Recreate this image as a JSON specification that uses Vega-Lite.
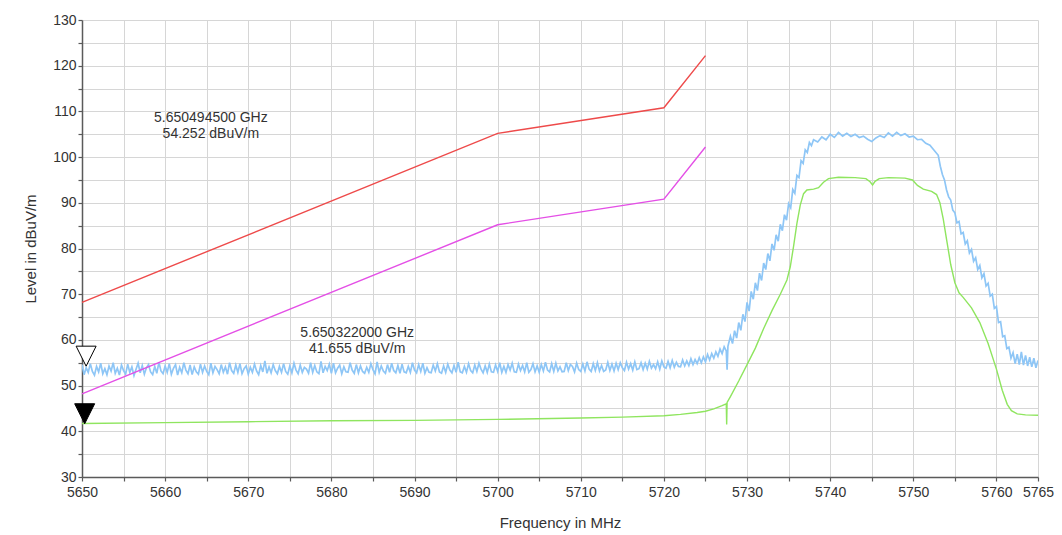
{
  "$schema": "https://vega.github.io/schema/vega-lite/v6.json",
  "width": 956,
  "height": 457,
  "autosize": "none",
  "padding": {"left": 82, "top": 20, "right": 24, "bottom": 58},
  "background": "white",
  "config": {
    "view": {"stroke": null},
    "font": "Liberation Sans",
    "axis": {
      "labelFont": "Liberation Sans",
      "labelFontSize": 14,
      "labelColor": "#333333",
      "labelOverlap": false,
      "labelFlush": false,
      "titleFont": "Liberation Sans",
      "titleFontSize": 15,
      "titleFontWeight": "normal",
      "titleColor": "#333333",
      "domainColor": "#5a5a5a",
      "domainWidth": 1.5,
      "tickColor": "#5a5a5a",
      "tickWidth": 1.2,
      "tickSize": 4,
      "gridColor": "#d6d6d6",
      "gridWidth": 1
    }
  },
  "datasets": {
    "limits": [
      {"f": 5650, "v": 68.2, "kind": "peak limit"},
      {"f": 5700, "v": 105.2, "kind": "peak limit"},
      {"f": 5720, "v": 110.8, "kind": "peak limit"},
      {"f": 5725, "v": 122.2, "kind": "peak limit"},
      {"f": 5650, "v": 48.2, "kind": "average limit"},
      {"f": 5700, "v": 85.2, "kind": "average limit"},
      {"f": 5720, "v": 90.8, "kind": "average limit"},
      {"f": 5725, "v": 102.2, "kind": "average limit"}
    ],
    "peak": [
      {"f": 5650, "v": 54.6}, {"f": 5650.25, "v": 52.4}, {"f": 5650.5, "v": 53.9}, {"f": 5650.75, "v": 52.9},
      {"f": 5651, "v": 54.8}, {"f": 5651.25, "v": 53.1}, {"f": 5651.5, "v": 52.3}, {"f": 5651.75, "v": 54.2},
      {"f": 5652, "v": 53.0}, {"f": 5652.25, "v": 54.9}, {"f": 5652.5, "v": 52.6}, {"f": 5652.75, "v": 53.7},
      {"f": 5653, "v": 52.4}, {"f": 5653.25, "v": 54.3}, {"f": 5653.5, "v": 53.2}, {"f": 5653.75, "v": 55.0},
      {"f": 5654, "v": 52.7}, {"f": 5654.25, "v": 53.8}, {"f": 5654.5, "v": 52.3}, {"f": 5654.75, "v": 54.5},
      {"f": 5655, "v": 53.3}, {"f": 5655.25, "v": 52.5}, {"f": 5655.5, "v": 54.7}, {"f": 5655.75, "v": 52.9},
      {"f": 5656, "v": 54.1}, {"f": 5656.25, "v": 52.2}, {"f": 5656.5, "v": 53.6}, {"f": 5656.75, "v": 54.9},
      {"f": 5657, "v": 52.8}, {"f": 5657.25, "v": 54.4}, {"f": 5657.5, "v": 52.5}, {"f": 5657.75, "v": 53.9},
      {"f": 5658, "v": 54.6}, {"f": 5658.25, "v": 53.0}, {"f": 5658.5, "v": 52.4}, {"f": 5658.75, "v": 54.2},
      {"f": 5659, "v": 52.7}, {"f": 5659.25, "v": 55.1}, {"f": 5659.5, "v": 53.2}, {"f": 5659.75, "v": 52.6},
      {"f": 5660, "v": 54.3}, {"f": 5660.25, "v": 52.9}, {"f": 5660.5, "v": 54.8}, {"f": 5660.75, "v": 52.5},
      {"f": 5661, "v": 53.8}, {"f": 5661.25, "v": 54.6}, {"f": 5661.5, "v": 52.3}, {"f": 5661.75, "v": 54.0},
      {"f": 5662, "v": 52.8}, {"f": 5662.25, "v": 55.0}, {"f": 5662.5, "v": 53.4}, {"f": 5662.75, "v": 52.6},
      {"f": 5663, "v": 54.5}, {"f": 5663.25, "v": 52.4}, {"f": 5663.5, "v": 54.1}, {"f": 5663.75, "v": 53.0},
      {"f": 5664, "v": 52.5}, {"f": 5664.25, "v": 54.7}, {"f": 5664.5, "v": 52.9}, {"f": 5664.75, "v": 54.3},
      {"f": 5665, "v": 53.1}, {"f": 5665.25, "v": 52.4}, {"f": 5665.5, "v": 54.9}, {"f": 5665.75, "v": 52.8},
      {"f": 5666, "v": 54.2}, {"f": 5666.25, "v": 53.5}, {"f": 5666.5, "v": 52.6}, {"f": 5666.75, "v": 54.6},
      {"f": 5667, "v": 52.9}, {"f": 5667.25, "v": 54.1}, {"f": 5667.5, "v": 52.5}, {"f": 5667.75, "v": 55.0},
      {"f": 5668, "v": 53.3}, {"f": 5668.25, "v": 52.7}, {"f": 5668.5, "v": 54.5}, {"f": 5668.75, "v": 52.9},
      {"f": 5669, "v": 54.8}, {"f": 5669.25, "v": 52.6}, {"f": 5669.5, "v": 53.7}, {"f": 5669.75, "v": 54.3},
      {"f": 5670, "v": 52.5}, {"f": 5670.25, "v": 54.0}, {"f": 5670.5, "v": 52.9}, {"f": 5670.75, "v": 54.7},
      {"f": 5671, "v": 53.2}, {"f": 5671.25, "v": 52.4}, {"f": 5671.5, "v": 54.4}, {"f": 5671.75, "v": 53.0},
      {"f": 5672, "v": 55.4}, {"f": 5672.25, "v": 52.7}, {"f": 5672.5, "v": 54.1}, {"f": 5672.75, "v": 52.8},
      {"f": 5673, "v": 54.6}, {"f": 5673.25, "v": 53.3}, {"f": 5673.5, "v": 52.6}, {"f": 5673.75, "v": 54.2},
      {"f": 5674, "v": 52.9}, {"f": 5674.25, "v": 54.8}, {"f": 5674.5, "v": 53.1}, {"f": 5674.75, "v": 52.5},
      {"f": 5675, "v": 54.3}, {"f": 5675.25, "v": 52.8}, {"f": 5675.5, "v": 54.9}, {"f": 5675.75, "v": 53.4},
      {"f": 5676, "v": 52.6}, {"f": 5676.25, "v": 54.5}, {"f": 5676.5, "v": 52.9}, {"f": 5676.75, "v": 54.0},
      {"f": 5677, "v": 53.6}, {"f": 5677.25, "v": 52.7}, {"f": 5677.5, "v": 55.0}, {"f": 5677.75, "v": 52.9},
      {"f": 5678, "v": 54.4}, {"f": 5678.25, "v": 53.0}, {"f": 5678.5, "v": 52.6}, {"f": 5678.75, "v": 55.3},
      {"f": 5679, "v": 52.8}, {"f": 5679.25, "v": 54.2}, {"f": 5679.5, "v": 53.3}, {"f": 5679.75, "v": 54.7},
      {"f": 5680, "v": 52.7}, {"f": 5680.25, "v": 54.9}, {"f": 5680.5, "v": 52.8}, {"f": 5680.75, "v": 53.8},
      {"f": 5681, "v": 54.5}, {"f": 5681.25, "v": 52.6}, {"f": 5681.5, "v": 54.1}, {"f": 5681.75, "v": 53.0},
      {"f": 5682, "v": 52.9}, {"f": 5682.25, "v": 55.0}, {"f": 5682.5, "v": 53.4}, {"f": 5682.75, "v": 52.7},
      {"f": 5683, "v": 54.6}, {"f": 5683.25, "v": 52.8}, {"f": 5683.5, "v": 54.3}, {"f": 5683.75, "v": 53.1},
      {"f": 5684, "v": 52.7}, {"f": 5684.25, "v": 54.0}, {"f": 5684.5, "v": 52.9}, {"f": 5684.75, "v": 54.8},
      {"f": 5685, "v": 53.5}, {"f": 5685.25, "v": 52.6}, {"f": 5685.5, "v": 55.2}, {"f": 5685.75, "v": 52.9},
      {"f": 5686, "v": 54.3}, {"f": 5686.25, "v": 53.2}, {"f": 5686.5, "v": 52.7}, {"f": 5686.75, "v": 54.6},
      {"f": 5687, "v": 52.9}, {"f": 5687.25, "v": 54.9}, {"f": 5687.5, "v": 53.3}, {"f": 5687.75, "v": 52.8},
      {"f": 5688, "v": 54.4}, {"f": 5688.25, "v": 52.7}, {"f": 5688.5, "v": 54.7}, {"f": 5688.75, "v": 53.0},
      {"f": 5689, "v": 52.8}, {"f": 5689.25, "v": 54.2}, {"f": 5689.5, "v": 52.9}, {"f": 5689.75, "v": 55.0},
      {"f": 5690, "v": 53.4}, {"f": 5690.25, "v": 52.8}, {"f": 5690.5, "v": 54.6}, {"f": 5690.75, "v": 53.1},
      {"f": 5691, "v": 54.9}, {"f": 5691.25, "v": 52.7}, {"f": 5691.5, "v": 53.9}, {"f": 5691.75, "v": 52.9},
      {"f": 5692, "v": 52.8}, {"f": 5692.25, "v": 54.5}, {"f": 5692.5, "v": 53.2}, {"f": 5692.75, "v": 54.8},
      {"f": 5693, "v": 53.0}, {"f": 5693.25, "v": 52.7}, {"f": 5693.5, "v": 54.3}, {"f": 5693.75, "v": 52.9},
      {"f": 5694, "v": 54.7}, {"f": 5694.25, "v": 53.4}, {"f": 5694.5, "v": 52.8}, {"f": 5694.75, "v": 54.4},
      {"f": 5695, "v": 52.9}, {"f": 5695.25, "v": 55.1}, {"f": 5695.5, "v": 53.0}, {"f": 5695.75, "v": 52.8},
      {"f": 5696, "v": 54.2}, {"f": 5696.25, "v": 52.9}, {"f": 5696.5, "v": 54.8}, {"f": 5696.75, "v": 53.3},
      {"f": 5697, "v": 52.8}, {"f": 5697.25, "v": 54.5}, {"f": 5697.5, "v": 53.1}, {"f": 5697.75, "v": 54.9},
      {"f": 5698, "v": 53.6}, {"f": 5698.25, "v": 52.8}, {"f": 5698.5, "v": 54.3}, {"f": 5698.75, "v": 52.9},
      {"f": 5699, "v": 54.7}, {"f": 5699.25, "v": 53.0}, {"f": 5699.5, "v": 52.9}, {"f": 5699.75, "v": 54.5},
      {"f": 5700, "v": 53.1}, {"f": 5700.25, "v": 55.0}, {"f": 5700.5, "v": 52.9}, {"f": 5700.75, "v": 54.2},
      {"f": 5701, "v": 52.9}, {"f": 5701.25, "v": 54.6}, {"f": 5701.5, "v": 53.4}, {"f": 5701.75, "v": 54.9},
      {"f": 5702, "v": 53.0}, {"f": 5702.25, "v": 52.9}, {"f": 5702.5, "v": 54.7}, {"f": 5702.75, "v": 53.3},
      {"f": 5703, "v": 54.4}, {"f": 5703.25, "v": 53.0}, {"f": 5703.5, "v": 55.0}, {"f": 5703.75, "v": 52.9},
      {"f": 5704, "v": 53.5}, {"f": 5704.25, "v": 54.8}, {"f": 5704.5, "v": 53.0}, {"f": 5704.75, "v": 54.3},
      {"f": 5705, "v": 52.9}, {"f": 5705.25, "v": 54.6}, {"f": 5705.5, "v": 53.2}, {"f": 5705.75, "v": 55.1},
      {"f": 5706, "v": 53.4}, {"f": 5706.25, "v": 53.0}, {"f": 5706.5, "v": 54.8}, {"f": 5706.75, "v": 53.1},
      {"f": 5707, "v": 54.9}, {"f": 5707.25, "v": 53.2}, {"f": 5707.5, "v": 54.1}, {"f": 5707.75, "v": 53.0},
      {"f": 5708, "v": 53.1}, {"f": 5708.25, "v": 55.0}, {"f": 5708.5, "v": 53.3}, {"f": 5708.75, "v": 54.6},
      {"f": 5709, "v": 54.2}, {"f": 5709.25, "v": 53.0}, {"f": 5709.5, "v": 54.9}, {"f": 5709.75, "v": 53.5},
      {"f": 5710, "v": 53.1}, {"f": 5710.25, "v": 54.7}, {"f": 5710.5, "v": 53.2}, {"f": 5710.75, "v": 55.2},
      {"f": 5711, "v": 53.6}, {"f": 5711.25, "v": 53.1}, {"f": 5711.5, "v": 54.8}, {"f": 5711.75, "v": 53.3},
      {"f": 5712, "v": 55.0}, {"f": 5712.25, "v": 53.2}, {"f": 5712.5, "v": 54.4}, {"f": 5712.75, "v": 53.1},
      {"f": 5713, "v": 53.4}, {"f": 5713.25, "v": 55.1}, {"f": 5713.5, "v": 53.3}, {"f": 5713.75, "v": 54.7},
      {"f": 5714, "v": 53.2}, {"f": 5714.25, "v": 54.9}, {"f": 5714.5, "v": 53.5}, {"f": 5714.75, "v": 55.0},
      {"f": 5715, "v": 53.9}, {"f": 5715.25, "v": 53.3}, {"f": 5715.5, "v": 55.1}, {"f": 5715.75, "v": 53.6},
      {"f": 5716, "v": 54.8}, {"f": 5716.25, "v": 53.4}, {"f": 5716.5, "v": 55.2}, {"f": 5716.75, "v": 53.5},
      {"f": 5717, "v": 53.7}, {"f": 5717.25, "v": 55.0}, {"f": 5717.5, "v": 53.5}, {"f": 5717.75, "v": 54.9},
      {"f": 5718, "v": 53.6}, {"f": 5718.25, "v": 55.3}, {"f": 5718.5, "v": 53.8}, {"f": 5718.75, "v": 54.6},
      {"f": 5719, "v": 53.7}, {"f": 5719.25, "v": 55.2}, {"f": 5719.5, "v": 53.6}, {"f": 5719.75, "v": 55.4},
      {"f": 5720, "v": 54.1}, {"f": 5720.25, "v": 53.8}, {"f": 5720.5, "v": 55.3}, {"f": 5720.75, "v": 53.9},
      {"f": 5721, "v": 55.5}, {"f": 5721.25, "v": 54.0}, {"f": 5721.5, "v": 55.1}, {"f": 5721.75, "v": 54.2},
      {"f": 5722, "v": 54.1}, {"f": 5722.25, "v": 55.6}, {"f": 5722.5, "v": 54.3}, {"f": 5722.75, "v": 55.4},
      {"f": 5723, "v": 54.4}, {"f": 5723.25, "v": 55.9}, {"f": 5723.5, "v": 54.6}, {"f": 5723.75, "v": 55.7},
      {"f": 5724, "v": 54.8}, {"f": 5724.25, "v": 56.1}, {"f": 5724.5, "v": 55.0}, {"f": 5724.75, "v": 56.3},
      {"f": 5725, "v": 55.2}, {"f": 5725.25, "v": 56.8}, {"f": 5725.5, "v": 55.6}, {"f": 5725.75, "v": 57.0},
      {"f": 5726, "v": 56.0}, {"f": 5726.25, "v": 57.4}, {"f": 5726.5, "v": 56.4}, {"f": 5726.75, "v": 58.0},
      {"f": 5727, "v": 57.0}, {"f": 5727.25, "v": 58.5}, {"f": 5727.5, "v": 57.6}, {"f": 5727.6, "v": 53.5},
      {"f": 5727.7, "v": 58.6}, {"f": 5728, "v": 60.8}, {"f": 5728.25, "v": 59.2}, {"f": 5728.5, "v": 62.0},
      {"f": 5728.75, "v": 60.4}, {"f": 5729, "v": 63.8}, {"f": 5729.25, "v": 62.1}, {"f": 5729.5, "v": 65.6},
      {"f": 5729.75, "v": 64.0}, {"f": 5730, "v": 68.2}, {"f": 5730.25, "v": 66.3}, {"f": 5730.5, "v": 70.6},
      {"f": 5730.75, "v": 68.9}, {"f": 5731, "v": 72.5}, {"f": 5731.25, "v": 70.8}, {"f": 5731.5, "v": 74.6},
      {"f": 5731.75, "v": 73.0}, {"f": 5732, "v": 76.8}, {"f": 5732.25, "v": 75.4}, {"f": 5732.5, "v": 78.9},
      {"f": 5732.75, "v": 77.3}, {"f": 5733, "v": 81.0}, {"f": 5733.25, "v": 79.6}, {"f": 5733.5, "v": 83.0},
      {"f": 5733.75, "v": 81.6}, {"f": 5734, "v": 85.3}, {"f": 5734.25, "v": 83.9}, {"f": 5734.5, "v": 87.4},
      {"f": 5734.75, "v": 86.2}, {"f": 5735, "v": 89.8}, {"f": 5735.25, "v": 88.9}, {"f": 5735.5, "v": 92.9},
      {"f": 5735.75, "v": 92.1}, {"f": 5736, "v": 96.0}, {"f": 5736.25, "v": 95.5}, {"f": 5736.5, "v": 99.2},
      {"f": 5736.75, "v": 98.6}, {"f": 5737, "v": 101.6}, {"f": 5737.25, "v": 101.0}, {"f": 5737.5, "v": 103.2},
      {"f": 5737.75, "v": 102.5}, {"f": 5738, "v": 103.8}, {"f": 5738.5, "v": 103.3}, {"f": 5739, "v": 104.4},
      {"f": 5739.5, "v": 103.8}, {"f": 5740, "v": 105.0}, {"f": 5740.5, "v": 104.3}, {"f": 5741, "v": 105.4},
      {"f": 5741.5, "v": 104.6}, {"f": 5742, "v": 105.2}, {"f": 5742.5, "v": 104.5}, {"f": 5743, "v": 105.0},
      {"f": 5743.5, "v": 104.3}, {"f": 5744, "v": 104.6}, {"f": 5744.5, "v": 103.9}, {"f": 5745, "v": 103.4},
      {"f": 5745.5, "v": 104.2}, {"f": 5746, "v": 104.7}, {"f": 5746.5, "v": 104.3}, {"f": 5747, "v": 105.3},
      {"f": 5747.5, "v": 104.6}, {"f": 5748, "v": 105.4}, {"f": 5748.5, "v": 104.7}, {"f": 5749, "v": 105.1},
      {"f": 5749.5, "v": 104.4}, {"f": 5750, "v": 104.6}, {"f": 5750.5, "v": 103.8}, {"f": 5751, "v": 103.9},
      {"f": 5751.5, "v": 103.0}, {"f": 5752, "v": 102.6}, {"f": 5752.5, "v": 101.5}, {"f": 5753, "v": 100.4},
      {"f": 5753.25, "v": 98.0}, {"f": 5753.5, "v": 96.2}, {"f": 5753.75, "v": 95.0}, {"f": 5754, "v": 92.8},
      {"f": 5754.25, "v": 91.3}, {"f": 5754.5, "v": 90.6}, {"f": 5754.75, "v": 88.4}, {"f": 5755, "v": 87.8},
      {"f": 5755.25, "v": 85.6}, {"f": 5755.5, "v": 85.9}, {"f": 5755.75, "v": 83.2}, {"f": 5756, "v": 83.5},
      {"f": 5756.25, "v": 81.0}, {"f": 5756.5, "v": 81.7}, {"f": 5756.75, "v": 79.0}, {"f": 5757, "v": 79.8},
      {"f": 5757.25, "v": 77.2}, {"f": 5757.5, "v": 78.0}, {"f": 5757.75, "v": 75.4}, {"f": 5758, "v": 76.3},
      {"f": 5758.25, "v": 73.6}, {"f": 5758.5, "v": 74.5}, {"f": 5758.75, "v": 71.8}, {"f": 5759, "v": 72.4},
      {"f": 5759.25, "v": 69.6}, {"f": 5759.5, "v": 70.0}, {"f": 5759.75, "v": 66.9}, {"f": 5760, "v": 67.3},
      {"f": 5760.25, "v": 63.8}, {"f": 5760.5, "v": 64.0}, {"f": 5760.75, "v": 60.7}, {"f": 5761, "v": 60.9},
      {"f": 5761.25, "v": 58.1}, {"f": 5761.5, "v": 58.4}, {"f": 5761.75, "v": 56.0}, {"f": 5762, "v": 57.2},
      {"f": 5762.25, "v": 54.8}, {"f": 5762.5, "v": 56.9}, {"f": 5762.75, "v": 54.6}, {"f": 5763, "v": 57.4},
      {"f": 5763.25, "v": 54.5}, {"f": 5763.5, "v": 56.6}, {"f": 5763.75, "v": 54.3}, {"f": 5764, "v": 56.2},
      {"f": 5764.25, "v": 54.1}, {"f": 5764.5, "v": 56.0}, {"f": 5764.75, "v": 53.9}, {"f": 5765, "v": 55.5}
    ],
    "average": [
      {"f": 5650, "v": 41.7}, {"f": 5660, "v": 41.9}, {"f": 5670, "v": 42.1}, {"f": 5680, "v": 42.3},
      {"f": 5690, "v": 42.4}, {"f": 5700, "v": 42.6}, {"f": 5710, "v": 42.9}, {"f": 5715, "v": 43.1},
      {"f": 5720, "v": 43.4}, {"f": 5722, "v": 43.7}, {"f": 5724, "v": 44.1}, {"f": 5725, "v": 44.4},
      {"f": 5726, "v": 44.9}, {"f": 5727, "v": 45.6}, {"f": 5727.5, "v": 46.0}, {"f": 5727.55, "v": 41.5},
      {"f": 5727.6, "v": 46.3}, {"f": 5728, "v": 47.6}, {"f": 5729, "v": 51.0}, {"f": 5730, "v": 54.6},
      {"f": 5731, "v": 58.2}, {"f": 5732, "v": 62.5}, {"f": 5733, "v": 66.4}, {"f": 5734, "v": 70.0},
      {"f": 5734.8, "v": 73.1}, {"f": 5735.2, "v": 76.0}, {"f": 5735.6, "v": 80.5}, {"f": 5736, "v": 85.5},
      {"f": 5736.4, "v": 89.5}, {"f": 5736.8, "v": 92.0}, {"f": 5737.2, "v": 92.8}, {"f": 5738, "v": 93.0},
      {"f": 5738.6, "v": 93.3}, {"f": 5739.2, "v": 94.5}, {"f": 5739.8, "v": 95.3}, {"f": 5741, "v": 95.6},
      {"f": 5743, "v": 95.5}, {"f": 5744.3, "v": 95.3}, {"f": 5744.8, "v": 94.6}, {"f": 5745.1, "v": 93.9},
      {"f": 5745.4, "v": 94.7}, {"f": 5745.9, "v": 95.3}, {"f": 5747, "v": 95.5}, {"f": 5749, "v": 95.4},
      {"f": 5749.9, "v": 95.0}, {"f": 5750.5, "v": 93.8}, {"f": 5751.2, "v": 93.0}, {"f": 5752.2, "v": 92.5},
      {"f": 5752.8, "v": 91.8}, {"f": 5753.2, "v": 90.0}, {"f": 5753.6, "v": 86.5}, {"f": 5754, "v": 82.0},
      {"f": 5754.5, "v": 76.5}, {"f": 5755, "v": 72.5}, {"f": 5755.5, "v": 70.3}, {"f": 5756, "v": 69.3},
      {"f": 5757, "v": 67.0}, {"f": 5758, "v": 63.8}, {"f": 5759, "v": 59.2}, {"f": 5760, "v": 53.6},
      {"f": 5760.7, "v": 49.0}, {"f": 5761.3, "v": 45.9}, {"f": 5761.8, "v": 44.5}, {"f": 5762.5, "v": 43.8},
      {"f": 5763.5, "v": 43.6}, {"f": 5765, "v": 43.5}
    ],
    "markers": [
      {"f": 5650.4945, "v": 54.252, "marker": "peak", "lines": ["5.650494500 GHz", "54.252 dBuV/m"], "lf": 5665.5, "lv": 108.6},
      {"f": 5650.322, "v": 41.655, "marker": "average", "lines": ["5.650322000 GHz", "41.655 dBuV/m"], "lf": 5683.1, "lv": 61.6}
    ]
  },
  "encoding": {
    "x": {
      "field": "f",
      "type": "quantitative",
      "scale": {"domain": [5650, 5765], "nice": false, "zero": false},
      "axis": {
        "title": "Frequency in MHz",
        "values": [5650, 5655, 5660, 5665, 5670, 5675, 5680, 5685, 5690, 5695, 5700, 5705, 5710, 5715, 5720, 5725, 5730, 5735, 5740, 5745, 5750, 5755, 5760, 5765],
        "format": "d",
        "labelExpr": "datum.value % 10 === 0 || datum.value === 5765 ? datum.label : ''",
        "labelPadding": 4,
        "titlePadding": 16
      }
    },
    "y": {
      "field": "v",
      "type": "quantitative",
      "scale": {"domain": [30, 130], "nice": false, "zero": false},
      "axis": {
        "title": "Level in dBuV/m",
        "values": [30, 35, 40, 45, 50, 55, 60, 65, 70, 75, 80, 85, 90, 95, 100, 105, 110, 115, 120, 125, 130],
        "format": "d",
        "labelExpr": "datum.value % 10 === 0 ? datum.label : ''",
        "labelPadding": 2,
        "titlePadding": 14
      }
    }
  },
  "layer": [
    {
      "data": {"name": "peak"},
      "mark": {"type": "line", "color": "#8ec6f6", "strokeWidth": 1.7, "clip": true}
    },
    {
      "data": {"name": "average"},
      "mark": {"type": "line", "color": "#8fe55f", "strokeWidth": 1.4, "clip": true}
    },
    {
      "data": {"name": "limits"},
      "mark": {"type": "line", "strokeWidth": 1.4},
      "encoding": {
        "color": {
          "field": "kind",
          "type": "nominal",
          "scale": {"domain": ["peak limit", "average limit"], "range": ["#ee4a4a", "#e44fe6"]},
          "legend": null
        }
      }
    },
    {
      "data": {"name": "markers"},
      "mark": {
        "type": "point",
        "shape": "M-1,-2L1,-2L0,0Z",
        "size": 400,
        "filled": true,
        "stroke": "#000000",
        "strokeWidth": 1,
        "opacity": 1
      },
      "encoding": {
        "fill": {
          "field": "marker",
          "type": "nominal",
          "scale": {"domain": ["peak", "average"], "range": ["#ffffff", "#000000"]},
          "legend": null
        }
      }
    },
    {
      "data": {"name": "markers"},
      "mark": {
        "type": "text",
        "font": "Liberation Sans",
        "fontSize": 14,
        "color": "#333333",
        "align": "center",
        "baseline": "middle",
        "lineHeight": 16
      },
      "encoding": {
        "x": {"field": "lf", "type": "quantitative"},
        "y": {"field": "lv", "type": "quantitative"},
        "text": {"field": "lines"}
      }
    }
  ]
}
